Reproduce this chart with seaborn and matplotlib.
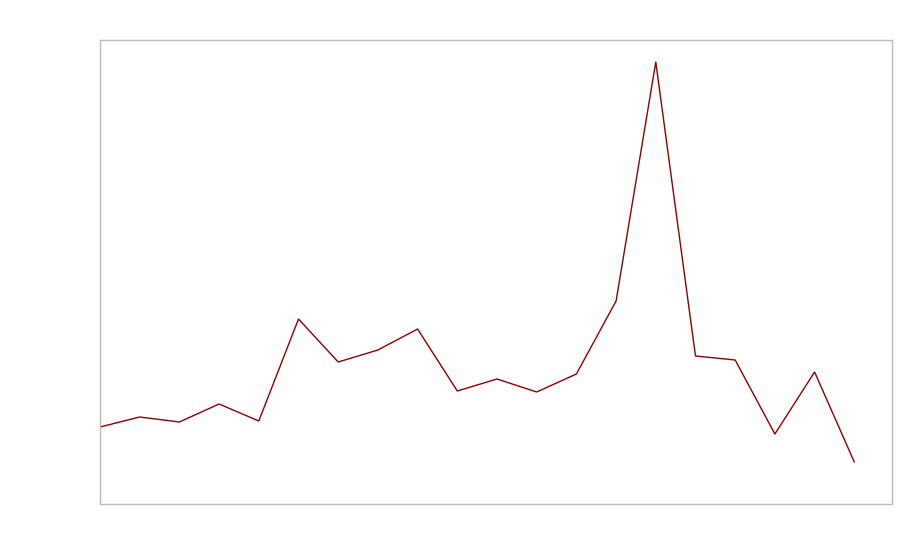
import matplotlib
matplotlib.use("Agg")
import matplotlib.pyplot as plt
import seaborn as sns
import pandas as pd

# values (arbitrary units, no labels shown)
steps = list(range(20))
values = [77, 87, 82, 100, 83, 185, 142, 154, 175, 113,
          125, 112, 130, 203, 442, 148, 144, 70, 132, 42]

df = pd.DataFrame({"step": steps, "value": values})

sns.set_style("white")

fig = plt.figure(figsize=(9, 5.6), dpi=100)
ax = fig.add_axes([100 / 900, 56 / 560, 792 / 900, 464 / 560])

sns.lineplot(
    data=df,
    x="step",
    y="value",
    color="#8b0000",
    linewidth=1,
    ax=ax
)

ax.set_xlim(0, 19.95)
ax.set_ylim(0, 464)
ax.set_xticks([])
ax.set_yticks([])
ax.set_xlabel("")
ax.set_ylabel("")

for side in ax.spines.values():
    side.set_color("#bbbbbb")
    side.set_linewidth(1)

fig.savefig("out.png", dpi=100)
